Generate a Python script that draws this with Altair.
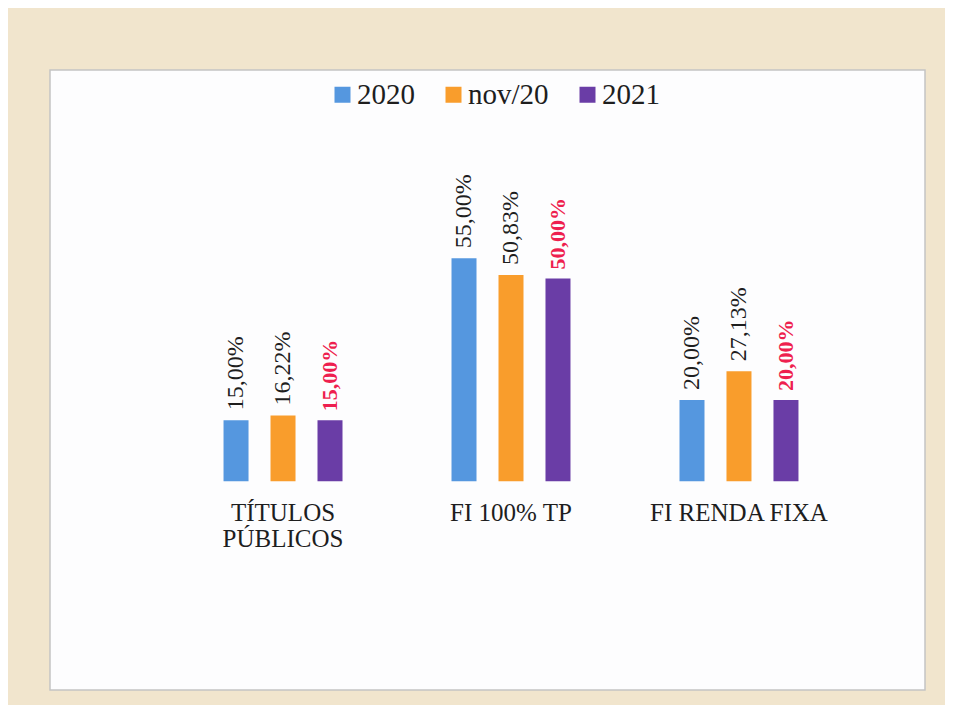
import altair as alt
import pandas as pd

categories = ["TÍTULOS|PÚBLICOS", "FI 100% TP", "FI RENDA FIXA"]
series = ["2020", "nov/20", "2021"]
values_2020 = [15.00, 55.00, 20.00]
values_nov20 = [16.22, 50.83, 27.13]
values_2021 = [15.00, 50.00, 20.00]
colors = ["#5597DF", "#F99D2C", "#6A3DA6"]

rows = []
for s, vals in zip(series, [values_2020, values_nov20, values_2021]):
    for c, v in zip(categories, vals):
        rows.append({"cat": c, "series": s, "value": v,
                     "label": f"{v:.2f}".replace(".", ",") + "%"})
df = pd.DataFrame(rows)

SERIF = "Liberation Serif"

x = alt.X("cat:N", sort=categories, title=None,
          scale=alt.Scale(paddingInner=0, paddingOuter=0.419, align=0.623),
          axis=alt.Axis(offset=-209, domain=False, ticks=False, labelAngle=0,
                        labelFont=SERIF, labelFontSize=25, labelColor="#1e1e1e",
                        labelPadding=19, labelLineHeight=26,
                        labelExpr="split(datum.label, '|')"))
xoff = alt.XOffset("series:N", sort=series,
                   scale=alt.Scale(paddingInner=0, paddingOuter=0.926))
y = alt.Y("value:Q", axis=None,
          scale=alt.Scale(domain=[-51.5, 101.4], nice=False, zero=False))

base = alt.Chart(df)

bars = base.mark_bar(width=25).encode(
    x=x, xOffset=xoff, y=y,
    color=alt.Color("series:N", sort=series,
                    scale=alt.Scale(domain=series, range=colors),
                    legend=alt.Legend(orient="none", legendX=278, legendY=10,
                                      direction="horizontal", title=None,
                                      symbolType="square", symbolSize=256,
                                      symbolStrokeWidth=0, labelFont=SERIF,
                                      labelFontSize=29, labelColor="#1e1e1e",
                                      labelOffset=0, columnPadding=24)),
)

txt_black = base.transform_filter(alt.datum.series != "2021").mark_text(
    angle=270, align="left", baseline="middle", dx=10,
    font=SERIF, fontSize=24, color="#1e1e1e",
).encode(x=x, xOffset=xoff, y=y, text="label:N")

txt_red = base.transform_filter(alt.datum.series == "2021").mark_text(
    angle=270, align="left", baseline="middle", dx=9,
    font=SERIF, fontSize=22, fontWeight="bold", color="#EE1F4F",
).encode(x=x, xOffset=xoff, y=y, text="label:N")

chart = alt.layer(bars, txt_black, txt_red).properties(
    width=875, height=620,
    autosize=alt.AutoSizeParams(type="none"),
    padding={"left": 42, "top": 62, "right": 20, "bottom": 15},
    background="#F1E5CD",
).configure_view(fill="#FDFDFE", stroke="#C4C4C4", strokeWidth=1.5)

chart.save("out.html", embed_options={"renderer": "svg", "actions": False})
